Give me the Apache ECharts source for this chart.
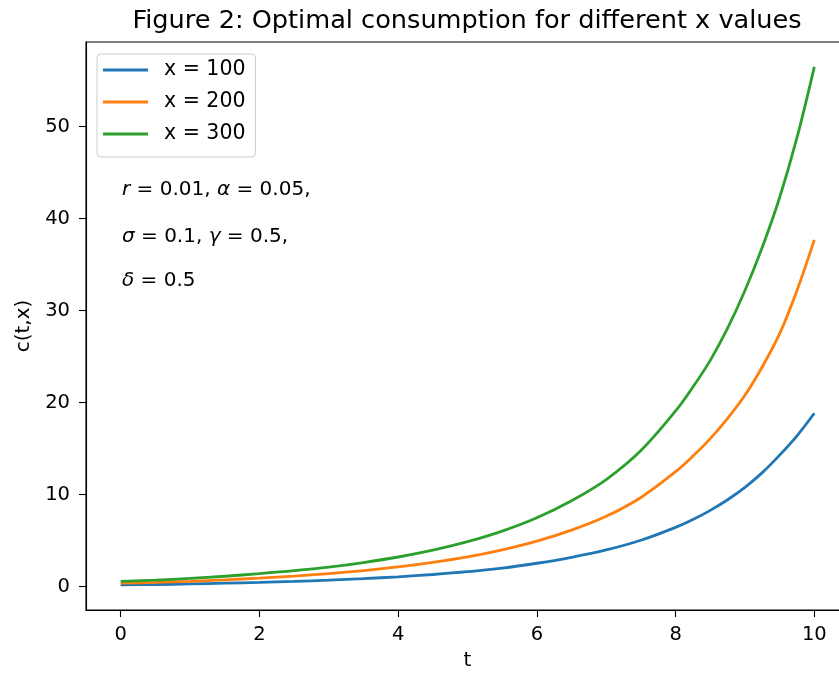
<!DOCTYPE html>
<html>
<head>
<meta charset="utf-8">
<script src="https://cdn.jsdelivr.net/npm/echarts@6/dist/echarts.min.js"></script>
<style>
html,body{margin:0;padding:0;background:#fff;}
#chart{width:839px;height:674px;}
</style>
</head>
<body>
<div id="chart"></div>
<script>
// ---- data ----
const tValues = [0,0.5,1,1.5,2,2.5,3,3.5,4,4.5,5,5.5,6,6.5,7,7.5,8,8.25,8.5,8.75,9,9.25,9.5,9.75,10];
const seriesNames = ['x = 100','x = 200','x = 300'];
const c100 = [0.19,0.24,0.3,0.38,0.47,0.58,0.71,0.88,1.08,1.33,1.63,2.01,2.55,3.2,4.0,5.05,6.45,7.3,8.3,9.45,10.8,12.4,14.3,16.4,18.85];
const c200 = [0.38,0.47,0.59,0.75,0.94,1.16,1.42,1.75,2.15,2.65,3.25,4.0,4.95,6.15,7.65,9.7,12.5,14.2,16.1,18.3,20.8,23.9,27.5,32.2,37.7];
const c300 = [0.58,0.72,0.9,1.14,1.42,1.74,2.13,2.63,3.23,3.98,4.9,6.05,7.5,9.35,11.65,14.8,19.1,21.7,24.6,28.1,32.2,36.9,42.3,48.8,56.5];
const xTicks = [0,2,4,6,8,10];
const yTicks = [0,10,20,30,40,50];
const titleText = 'Figure 2: Optimal consumption for different x values';
const xLabel = 't';
const yLabel = 'c(t,x)';
const colors = ['#1f77b4','#ff7f0e','#2ca02c'];

const FONT = 'DejaVu Sans';
const allSeries = [c100, c200, c300];

const chart = echarts.init(document.getElementById('chart'), null, {renderer:'canvas'});

const mathStyle = {
  fontFamily: FONT, fontSize: 20, fill: '#000',
  rich: { i: { fontFamily: FONT, fontStyle: 'italic', fontSize: 20, fill: '#000' } }
};
function mathText(y, txt) {
  return {
    type: 'text', x: 122, y: y,
    style: Object.assign({}, mathStyle, { text: txt, textAlign: 'left', textVerticalAlign: 'middle' })
  };
}

chart.setOption({
  animation: false,
  backgroundColor: '#fff',
  color: colors,
  title: {
    text: titleText,
    left: 467, top: 8, textAlign: 'center', padding: 0,
    textStyle: { fontFamily: FONT, fontSize: 25.6, fontWeight: 'normal', color: '#000' }
  },
  grid: {
    left: 86, top: 42, right: -10, bottom: 64,
    show: true, borderColor: '#000', borderWidth: 1.1,
    outerBoundsMode: 'none', containLabel: false
  },
  legend: {
    orient: 'vertical', left: 97, top: 54,
    data: seriesNames,
    icon: 'rect',
    itemWidth: 45, itemHeight: 3, itemGap: 10,
    padding: [5, 10, 12, 6],
    backgroundColor: 'rgba(255,255,255,0.85)',
    borderColor: '#cccccc', borderWidth: 1, borderRadius: 4,
    textStyle: { fontFamily: FONT, fontSize: 20.5, color: '#000', lineHeight: 22, padding: [0,0,0,11] }
  },
  xAxis: {
    type: 'value', min: -0.5, max: 10.5,
    name: xLabel, nameLocation: 'middle', nameGap: 41,
    nameTextStyle: { fontFamily: FONT, fontSize: 20, color: '#000' },
    axisLine: { show: true, onZero: false, lineStyle: { color: '#000', width: 1.1 } },
    axisTick: { show: true, inside: false, length: 7, lineStyle: { color: '#000', width: 1.1 }, customValues: xTicks },
    axisLabel: { show: true, margin: 15, fontFamily: FONT, fontSize: 19.5, color: '#000', customValues: xTicks,
      formatter: v => String(v) },
    splitLine: { show: false }
  },
  yAxis: {
    type: 'value', min: -2.53, max: 59.2,
    name: yLabel, nameLocation: 'middle', nameGap: 50, nameRotate: 90,
    nameTextStyle: { fontFamily: FONT, fontSize: 20, color: '#000' },
    axisLine: { show: true, onZero: false, lineStyle: { color: '#000', width: 1.1 } },
    axisTick: { show: true, inside: false, length: 7, lineStyle: { color: '#000', width: 1.1 }, customValues: yTicks },
    axisLabel: { show: true, margin: 16, fontFamily: FONT, fontSize: 19.5, color: '#000', customValues: yTicks,
      formatter: v => String(v) },
    splitLine: { show: false }
  },
  series: allSeries.map((vals, k) => ({
    name: seriesNames[k],
    type: 'line',
    data: tValues.map((t, i) => [t, vals[i]]),
    symbol: 'none',
    smooth: 0.35,
    lineStyle: { width: 2.8, color: colors[k] },
    itemStyle: { color: colors[k] },
    z: 2 + k
  })),
  graphic: [
    mathText(190, '{i|r} = 0.01, {i|α} = 0.05,'),
    mathText(237, '{i|σ} = 0.1, {i|γ} = 0.5,'),
    mathText(281, '{i|δ} = 0.5')
  ]
});
</script>
</body>
</html>
